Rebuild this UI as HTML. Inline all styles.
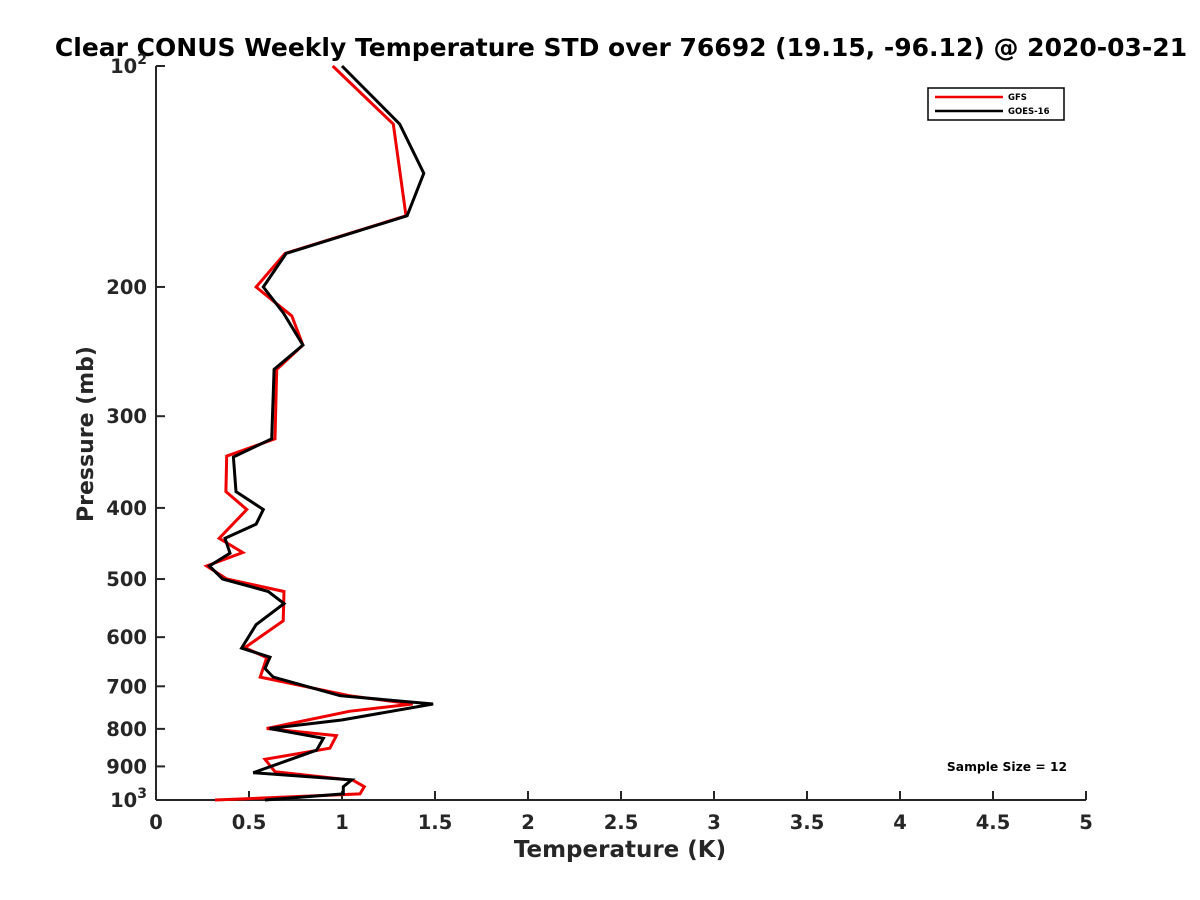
<!DOCTYPE html>
<html><head><meta charset="utf-8"><style>
body{margin:0;background:#fff}
svg{display:block;font-family:"DejaVu Sans","Liberation Sans",sans-serif}
</style></head><body>
<svg id="chart" width="1200" height="900" viewBox="0 0 1200 900">
<rect width="1200" height="900" fill="#fff"/>
<text x="621" y="56" text-anchor="middle" font-size="25" font-weight="bold" fill="#000">Clear CONUS Weekly Temperature STD over 76692 (19.15, -96.12) @ 2020-03-21</text>
<g id="axes"></g>
<g id="series"></g>
<text x="620" y="857" text-anchor="middle" font-size="23" font-weight="bold" fill="#262626">Temperature (K)</text>
<text transform="translate(93,434) rotate(-90)" text-anchor="middle" font-size="22" font-weight="bold" fill="#262626">Pressure (mb)</text>
<g>
<rect x="928" y="88" width="136" height="32" fill="#fff" stroke="#000" stroke-width="1.5"/>
<line x1="935" y1="97" x2="1003" y2="97" stroke="#e00" stroke-width="2.5"/>
<text x="1008" y="100" font-size="8.5" font-weight="bold">GFS</text>
<line x1="935" y1="111" x2="1003" y2="111" stroke="#000" stroke-width="2.5"/>
<text x="1008" y="114" font-size="8.5" font-weight="bold">GOES-16</text>
</g>
<text x="1007" y="771" text-anchor="middle" font-size="12.3" font-weight="bold">Sample Size = 12</text>
</svg>
<script>
const gfsPressure=[100,120,160,180,200,219,240,259,322,340,380,402,440,460,480,500,520,570,620,640,680,721,740,757,799,817,850,880,915,940,959,981,1000];
const gfsValues=[0.95,1.276,1.344,0.694,0.538,0.73,0.79,0.649,0.64,0.38,0.376,0.488,0.34,0.466,0.272,0.38,0.688,0.684,0.478,0.595,0.56,1.04,1.38,1.04,0.595,0.97,0.935,0.586,0.64,1.06,1.12,1.097,0.317];
const goesPressure=[100,120,140,160,180,200,217,240,259,322,341,380,402,421,440,461,480,500,520,540,577,621,639,662,680,721,740,778,799,824,855,918,939,959,981,1000];
const goesValues=[1.0,1.31,1.44,1.35,0.70,0.577,0.685,0.79,0.635,0.622,0.416,0.43,0.577,0.538,0.371,0.398,0.287,0.358,0.604,0.688,0.538,0.46,0.613,0.586,0.63,0.99,1.49,0.998,0.61,0.90,0.864,0.523,1.052,1.007,1.007,0.586];
const xTicks=[0,0.5,1,1.5,2,2.5,3,3.5,4,4.5,5];
const xTickLabels=["0","0.5","1","1.5","2","2.5","3","3.5","4","4.5","5"];
const yTicks=[100,200,300,400,500,600,700,800,900,1000];
const NS="http://www.w3.org/2000/svg";
const X0=156,X1=1086,Y0=66,Y1=800;
function xs(v){return X0+(v-0)/(5-0)*(X1-X0);}
function ys(p){return Y0+(Math.log10(p)-2)*(Y1-Y0);}
function mk(tag,attrs,parent){const e=document.createElementNS(NS,tag);for(const k in attrs)e.setAttribute(k,attrs[k]);parent.appendChild(e);return e;}
const axes=document.getElementById('axes');
const la=mk('line',{x1:X0,y1:Y0,x2:X0,y2:Y1,stroke:'#262626','stroke-width':2},axes);


const ba=mk('line',{x1:X0,y1:Y1,x2:X1,y2:Y1,stroke:'#262626','stroke-width':2},axes);


xTicks.forEach((t,i)=>{
 const x=xs(t);
 const tk=mk('line',{x1:x,y1:Y1,x2:x,y2:Y1-9,stroke:'#262626','stroke-width':2},axes);
 
 
 const tl=mk('text',{x:x,y:Y1+29,'text-anchor':'middle','font-size':19.5,'font-weight':'bold',fill:'#262626'},axes);
 tl.textContent=xTickLabels[i];
 
 
});
yTicks.forEach(t=>{
 const y=ys(t);
 const tk=mk('line',{x1:X0,y1:y,x2:X0+9,y2:y,stroke:'#262626','stroke-width':2},axes);
 
 
 const tl=mk('text',{x:X0-9,y:y+7,'text-anchor':'end','font-size':19.5,'font-weight':'bold',fill:'#262626'},axes);
 if(t===100||t===1000){
  tl.textContent='10';
  const s=mk('tspan',{dy:-9,'font-size':14},tl);s.textContent=t===100?'2':'3';
 } else tl.textContent=String(t);
 
 
});
const series=document.getElementById('series');
function draw(ps,vs,color,name){
 const pts=ps.map((p,i)=>xs(vs[i]).toFixed(1)+','+ys(p).toFixed(1)).join(' ');
 const pl=mk('polyline',{points:pts,fill:'none',stroke:color,'stroke-width':3,'stroke-linejoin':'miter'},series);
 
 
}
draw(gfsPressure,gfsValues,'#e00','gfs-line');
draw(goesPressure,goesValues,'#000','goes16-line');
</script>
</body></html>
